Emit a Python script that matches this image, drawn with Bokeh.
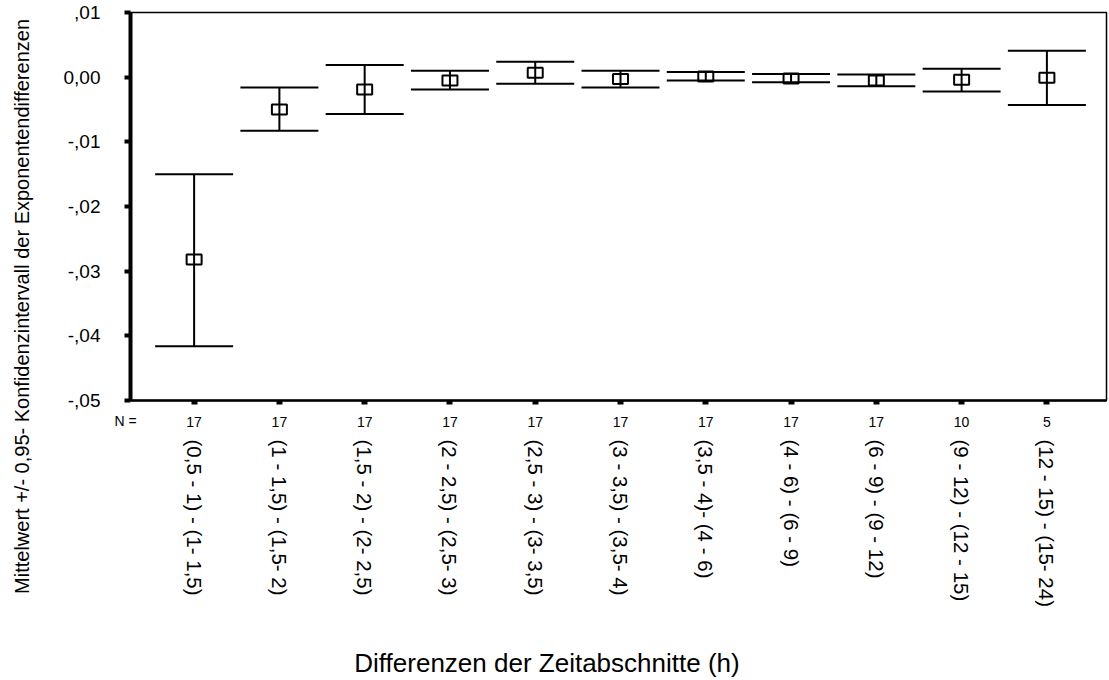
import math
from bokeh.plotting import figure
from bokeh.models import (ColumnDataSource, Range1d, LinearAxis, FixedTicker,
                          Whisker, TeeHead, Label)
from bokeh.embed import file_html
from bokeh.resources import INLINE

categories = [
    "(0,5 - 1) - (1- 1,5)",
    "(1 - 1,5) - (1,5- 2)",
    "(1,5 - 2) - (2- 2,5)",
    "(2 - 2,5) - (2,5- 3)",
    "(2,5 - 3) - (3- 3,5)",
    "(3 - 3,5) - (3,5- 4)",
    "(3,5 - 4)- (4 - 6)",
    "(4 - 6) - (6 - 9)",
    "(6 - 9) - (9 - 12)",
    "(9 - 12) - (12 - 15)",
    "(12 - 15) - (15- 24)",
]
n_values = [17, 17, 17, 17, 17, 17, 17, 17, 17, 10, 5]
means = [-0.0282, -0.0050, -0.0019, -0.0005, 0.0007, -0.0003, 0.0001, -0.0002, -0.0005, -0.0004, -0.0001]
lower = [-0.0416, -0.0083, -0.0057, -0.0019, -0.0010, -0.0016, -0.0005, -0.0008, -0.0014, -0.0022, -0.0043]
upper = [-0.0150, -0.0016, 0.0019, 0.0010, 0.0024, 0.0010, 0.0008, 0.0005, 0.0004, 0.0013, 0.0041]

ytick_values = [0.01, 0.0, -0.01, -0.02, -0.03, -0.04, -0.05]
ytick_labels = [",01", "0,00", "-,01", "-,02", "-,03", "-,04", "-,05"]

y_title = "Mittelwert +/- 0,95- Konfidenzintervall der Exponentendifferenzen"
x_title = "Differenzen der Zeitabschnitte (h)"
n_prefix = "N ="

FONT = "Liberation Sans"

xs = list(range(len(categories)))
src = ColumnDataSource(dict(x=xs, mean=means, lower=lower, upper=upper))

p = figure(width=1109, height=680,
           x_range=Range1d(-0.746, 10.699), y_range=Range1d(-0.05, 0.01),
           output_backend="svg", toolbar_location=None,
           min_border_left=130, min_border_right=3, min_border_top=12,
           min_border_bottom=280)
p.xgrid.visible = False
p.ygrid.visible = False
p.outline_line_color = "black"
p.outline_line_width = 1.5
p.background_fill_color = "white"
p.border_fill_color = "white"

# y axis
ya = p.yaxis[0]
ya.ticker = FixedTicker(ticks=ytick_values)
ya.major_label_overrides = dict(zip(ytick_values, ytick_labels))
ya.major_label_text_font = FONT
ya.major_label_text_font_size = "19px"
ya.major_label_text_color = "black"
ya.major_tick_out = 6
ya.major_tick_in = 0
ya.major_tick_line_width = 4
ya.minor_tick_line_color = None
ya.axis_line_width = 4
ya.major_label_standoff = 24

# x axis with N values
xa = p.xaxis[0]
xa.ticker = FixedTicker(ticks=xs)
xa.major_label_overrides = {i: str(n) for i, n in zip(xs, n_values)}
xa.major_label_text_font = FONT
xa.major_label_text_font_size = "14px"
xa.major_label_text_color = "black"
xa.major_tick_out = 4
xa.major_tick_in = 0
xa.major_tick_line_width = 6
xa.minor_tick_line_color = None
xa.axis_line_width = 2.5
xa.major_label_standoff = 12

# x axis with category names
xa2 = LinearAxis(ticker=FixedTicker(ticks=xs),
                 major_label_overrides={i: c for i, c in zip(xs, categories)},
                 major_label_orientation="vertical",
                 major_label_text_font=FONT,
                 major_label_text_font_size="20.5px",
                 major_label_text_color="black",
                 axis_line_color=None, major_tick_line_color=None,
                 minor_tick_line_color=None, major_tick_out=0, major_tick_in=0,
                 major_label_standoff=10)
p.add_layout(xa2, "below")

# error bars
p.add_layout(Whisker(base="x", upper="upper", lower="lower", source=src,
                     dimension="height", line_width=2, line_color="black",
                     upper_head=TeeHead(size=78, line_width=2, line_color="black"),
                     lower_head=TeeHead(size=78, line_width=2, line_color="black")))
p.rect(x="x", y="mean", width=15, height=10, width_units="screen",
       height_units="screen", source=src, fill_color=None,
       line_color="black", line_width=2)

# texts outside the frame (placed in side panels so they are not clipped)
p.add_layout(Label(x=-2.017, y=-0.03546, text=y_title, angle=math.pi / 2,
                   text_align="center", text_baseline="middle",
                   text_font=FONT, text_font_size="20px",
                   text_color="black"), "left")
p.add_layout(Label(x=-0.805, y=-0.0531, text=n_prefix,
                   text_align="center", text_baseline="middle",
                   text_font=FONT, text_font_size="14px",
                   text_color="black"), "below")
p.add_layout(Label(x=4.138, y=-0.09067, text=x_title,
                   text_align="center", text_baseline="middle",
                   text_font=FONT, text_font_size="26px",
                   text_color="black"), "below")

open("out.html", "w").write(file_html(p, INLINE))
